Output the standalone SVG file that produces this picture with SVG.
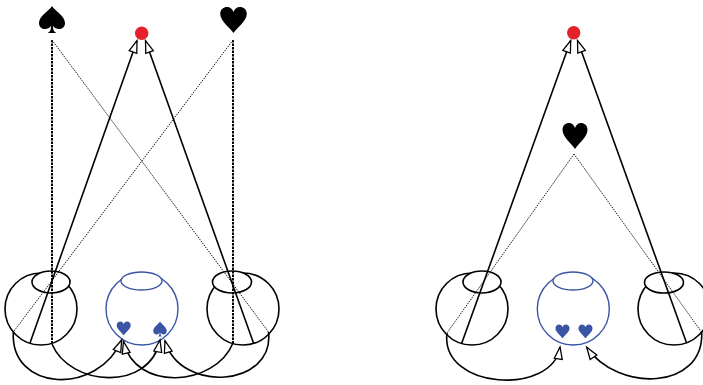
<svg xmlns="http://www.w3.org/2000/svg" width="703" height="385" viewBox="0 0 703 385">
  <style>
    .eye { fill: none; stroke: #000; stroke-width: 1.6; }
    .lens { fill: #fff; stroke: #000; stroke-width: 1.6; }
    .brain { fill: none; stroke: #3b55a5; stroke-width: 1.4; }
    .brain-lens { fill: #fff; stroke: #3b55a5; stroke-width: 1.4; }
    .ray { fill: none; stroke: #000; stroke-width: 1.6; }
    .sight { fill: none; stroke: #000; stroke-width: 2; stroke-dasharray: 2.5 1; }
    .cross { fill: none; stroke: #222; stroke-width: 1; stroke-dasharray: 1.5 1; }
    .nerve { fill: none; stroke: #000; stroke-width: 1.6; }
    .dot { fill: #e5222b; }
    .suit { fill: #000; }
    .suit-blue { fill: #3b55a5; }
  </style>
  <defs>
    <marker id="open-arrow" markerUnits="userSpaceOnUse" markerWidth="14" markerHeight="10" refX="12.5" refY="4.5" orient="auto" overflow="visible">
      <path d="M0.5,0.5 L12.5,4.5 L0.5,8.5 Z" fill="#fff" stroke="#000" stroke-width="1.3" stroke-linejoin="miter"/>
    </marker>
    <!-- heart centred on origin, 26 x 26 -->
    <path id="heart" d="M0,13 C-4,7 -13,1 -13,-6 C-13,-11 -9.5,-13 -6.5,-13 C-3,-13 -1,-11 0,-8 C1,-11 3,-13 6.5,-13 C9.5,-13 13,-11 13,-6 C13,1 4,7 0,13 Z"/>
    <!-- spade, top point at origin, 26 x 27 -->
    <path id="spade" d="M0,0 C-3,5 -13,10 -13,17 C-13,21 -10,23 -7,23 C-4,23 -2,21.5 -1,20 C-1,24 -2,26 -4.5,27 L4.5,27 C2,26 1,24 1,20 C2,21.5 4,23 7,23 C10,23 13,21 13,17 C13,10 3,5 0,0 Z"/>
  </defs>

  <!-- left scene -->
  <g id="spade-object"><use href="#spade" class="suit" x="52" y="6"/></g>
  <g id="heart-object-left"><use href="#heart" class="suit" transform="translate(233.5,20) scale(1.02,1)"/></g>
  <g id="fixation-left"><circle class="dot" cx="141.7" cy="33.3" r="6.7"/></g>

  <g id="left-eye-a">
    <circle class="eye" cx="41" cy="309" r="36"/>
    <ellipse class="lens" cx="51" cy="282" rx="19" ry="11"/>
  </g>
  <g id="brain-a">
    <circle class="brain" cx="142" cy="309" r="36"/>
    <ellipse class="brain-lens" cx="141.5" cy="281" rx="20.5" ry="9"/>
    <use href="#heart" class="suit-blue" transform="translate(123.7,328.5) scale(0.54)"/>
    <use href="#spade" class="suit-blue" transform="translate(160,321.5) scale(0.52,0.56)"/>
  </g>
  <g id="right-eye-a">
    <circle class="eye" cx="243" cy="309" r="36"/>
    <ellipse class="lens" cx="232" cy="282" rx="19.5" ry="11"/>
  </g>

  <!-- right scene -->
  <g id="fixation-right"><circle class="dot" cx="573.7" cy="32.7" r="6.7"/></g>
  <g id="heart-object-right"><use href="#heart" class="suit" transform="translate(575,136) scale(0.96,1)"/></g>

  <g id="left-eye-b">
    <circle class="eye" cx="472" cy="309" r="36"/>
    <ellipse class="lens" cx="482" cy="282" rx="19" ry="11"/>
  </g>
  <g id="brain-b">
    <circle class="brain" cx="573.3" cy="309" r="36"/>
    <ellipse class="brain-lens" cx="573" cy="281" rx="20" ry="9"/>
    <use href="#heart" class="suit-blue" transform="translate(562.5,331.5) scale(0.54)"/>
    <use href="#heart" class="suit-blue" transform="translate(585.5,331.5) scale(0.54)"/>
  </g>
  <g id="right-eye-b">
    <circle class="eye" cx="674" cy="309" r="36"/>
    <ellipse class="lens" cx="664" cy="282.5" rx="19.5" ry="10.5"/>
  </g>

  <g id="connectors">
    <!-- left scene: lines of sight -->
    <line class="sight" x1="52" y1="40" x2="52" y2="344"/>
    <line class="sight" x1="233" y1="40" x2="233" y2="343"/>
    <line class="cross" x1="52" y1="40" x2="268.5" y2="332"/>
    <line class="cross" x1="233" y1="40" x2="13.3" y2="332"/>
    <line class="ray" x1="30" y1="343" x2="137" y2="40.7" marker-end="url(#open-arrow)"/>
    <line class="ray" x1="253.5" y1="343" x2="145.5" y2="40.7" marker-end="url(#open-arrow)"/>
    <!-- left scene: pathways to the brain -->
    <path class="nerve" d="M13.3,332 C10,392 98,396 121.7,340" marker-end="url(#open-arrow)"/>
    <path class="nerve" d="M52,344 C70,387 150,392 160,340" marker-end="url(#open-arrow)"/>
    <path class="nerve" d="M233,343 C215,387 135,392 123.5,341.5" marker-end="url(#open-arrow)"/>
    <path class="nerve" d="M268.5,332 C275,387 180,394 165,340.7" marker-end="url(#open-arrow)"/>

    <!-- right scene: lines of sight -->
    <line class="cross" x1="574" y1="154" x2="447" y2="333"/>
    <line class="cross" x1="574" y1="154" x2="701.7" y2="332.3"/>
    <line class="ray" x1="461.7" y1="343.3" x2="570.7" y2="40.5" marker-end="url(#open-arrow)"/>
    <line class="ray" x1="686.7" y1="343.3" x2="577.5" y2="40.5" marker-end="url(#open-arrow)"/>
    <!-- right scene: pathways to the brain -->
    <path class="nerve" d="M447,333 C440,390 553,396 560,347" marker-end="url(#open-arrow)"/>
    <path class="nerve" d="M701.7,332.3 C704,390 618,393 586.7,347.3" marker-end="url(#open-arrow)"/>
  </g>
</svg>
